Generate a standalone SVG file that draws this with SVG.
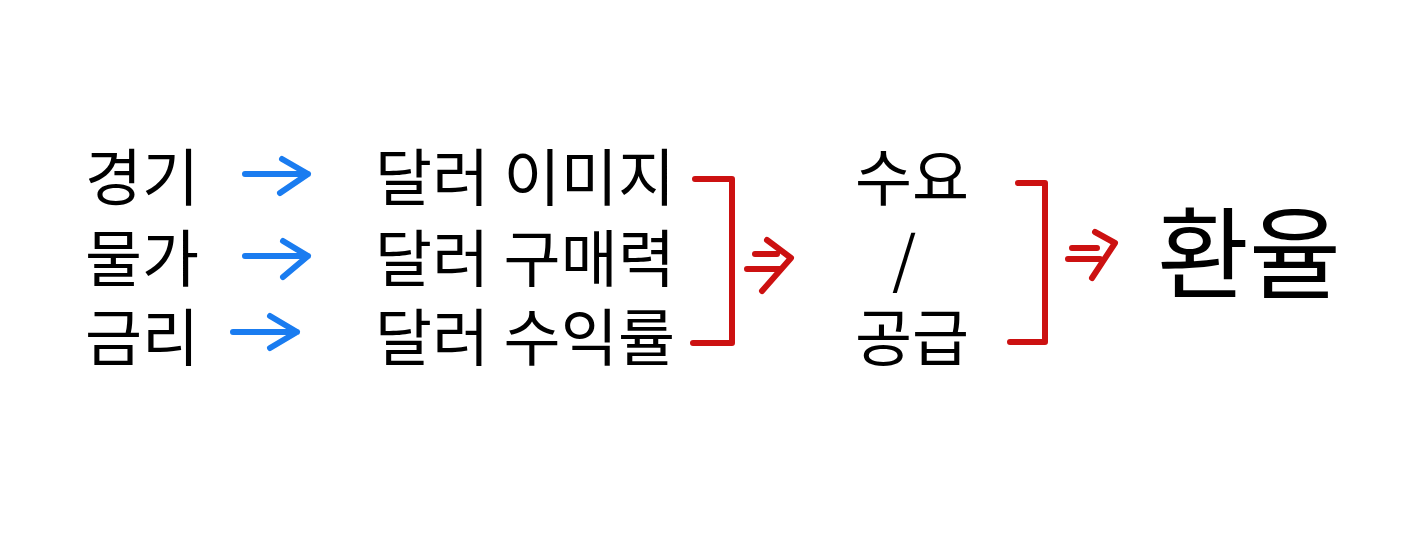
<svg xmlns="http://www.w3.org/2000/svg" width="1425" height="538" viewBox="0 0 1425 538">
<style>
.t{font-family:"Noto Sans CJK KR","Noto Sans",sans-serif;font-size:62px;fill:#000}
.big{font-size:100px}
.blue{fill:none;stroke:#1a7cf0;stroke-width:6;stroke-linecap:round;stroke-linejoin:round}
.red{fill:none;stroke:#cc1111;stroke-width:6;stroke-linecap:round;stroke-linejoin:round}
</style>
<rect width="1425" height="538" fill="#fff"/>
<g id="n-gyeonggi"><text class="t" x="85" y="201">경기</text></g>
<g id="n-mulga"><text class="t" x="85" y="282">물가</text></g>
<g id="n-geumri"><text class="t" x="85" y="361">금리</text></g>
<g id="n-image"><text class="t" x="375" y="201" textLength="300" lengthAdjust="spacing">달러 이미지</text></g>
<g id="n-power"><text class="t" x="375" y="282" textLength="300" lengthAdjust="spacing">달러 구매력</text></g>
<g id="n-yield"><text class="t" x="375" y="361" textLength="300" lengthAdjust="spacing">달러 수익률</text></g>
<g id="n-sd">
<text class="t" x="855" y="201">수요</text>
<text class="t" x="892" y="282">/</text>
<text class="t" x="855" y="361">공급</text>
</g>
<g id="n-rate"><text class="t big" x="1157" y="291">환율</text></g>
<g id="connectors">
<path class="blue" d="M245 174H308M282 159L308 174L280 193"/>
<path class="blue" d="M245 256H308M283 241L308 256L283 277"/>
<path class="blue" d="M233 332H297M270 316L297 332L270 348"/>
<path class="red" d="M695 179H732V343H693"/>
<path class="red" d="M755 254H777M747 269H780M767 240L791 258L762 291"/>
<path class="red" d="M1018 183H1045V342H1010"/>
<path class="red" d="M1072 248H1097M1068 259H1100M1095 232L1115 243L1092 278"/>
</g>
</svg>
